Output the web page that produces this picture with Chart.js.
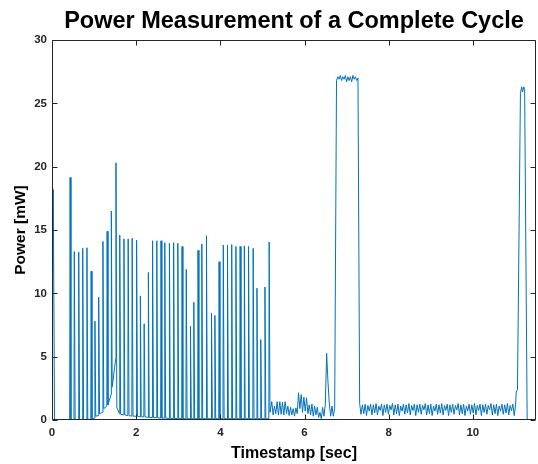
<!DOCTYPE html>
<html>
<head>
<meta charset="utf-8">
<script src="https://cdn.jsdelivr.net/npm/chart.js@4.4.1/dist/chart.umd.min.js"></script>
<style>
  html, body { margin: 0; padding: 0; background: #fff; }
  #wrap { width: 538px; height: 464px; }
</style>
</head>
<body>
<div id="wrap"><canvas id="c" width="538" height="464"></canvas></div>
<script>
// ---------- data ----------
const chartTitle = 'Power Measurement of a Complete Cycle';
const xLabel = 'Timestamp [sec]';
const yLabel = 'Power [mW]';
const xTicks = [0, 2, 4, 6, 8, 10];
const yTicks = [0, 5, 10, 15, 20, 25, 30];

// opening transient
const startTimes = [0, 0.03, 0.06, 0.42];
const startPower = [3.9, 18.2, 0.05, 0];

// pulse train: time of each pulse, its peak, the level just before it rises and the floor it falls back to
const pulseTimes = [0.43,0.53,0.635,0.73,0.83,0.93,1.02,1.11,1.21,1.31,1.41,1.52,1.61,1.71,1.81,1.905,2.01,2.10,2.19,2.29,2.39,2.49,2.59,2.68,2.79,2.89,2.99,3.09,3.19,3.29,3.37,3.47,3.56,3.67,3.79,3.87,3.97,4.07,4.17,4.27,4.37,4.47,4.57,4.67,4.78,4.87,4.96,5.06,5.16];
const pulsePeaks = [19.15,13.3,13.25,13.55,13.6,11.75,7.8,9.7,14.1,14.9,16.5,20.3,14.6,14.3,14.3,14.35,14.2,9.8,7.6,11.65,14.15,14.15,14.15,14.0,13.95,14.0,13.95,13.7,11.9,7.4,9.3,13.4,13.9,14.55,8.45,8.25,12.5,13.8,13.8,13.85,13.7,13.7,13.75,13.7,13.55,10.4,6.35,10.5,14.05];
const pulseLeads = [0,0,0,0,0,0.05,0.15,0.35,0.6,1.1,2.0,4.8,0.5,0.4,0.35,0.3,0.3,0.25,0.25,0.2,0.2,0.18,0.15,0.15,0.12,0.12,0.12,0.1,0.1,0.1,0.1,0.1,0.1,0.1,0.1,0.1,0.1,0.1,0.1,0.1,0.1,0.1,0.1,0.1,0.1,0.1,0.1,0.1,0.1];
const pulseFloors = [0,0,0,0,0.05,0.1,0.3,0.5,0.9,1.2,2.6,1.0,0.45,0.4,0.35,0.3,0.3,0.25,0.25,0.2,0.2,0.18,0.15,0.15,0.12,0.12,0.12,0.1,0.1,0.1,0.1,0.1,0.1,0.1,0.1,0.1,0.1,0.1,0.1,0.1,0.1,0.1,0.1,0.1,0.1,0.1,0.1,0.1,0.6];

// idle ripple between the pulse train and the first plateau (sample period below)
const ripple1Start = 5.19;
const ripple1Step = 0.0318;
const ripple1 = [0.6,1.45,0.4,1.1,0.5,1.45,0.4,1.45,0.45,1.4,0.4,1.45,0.5,1.1,0.35,1.0,0.4,0.9,0.3,0.95,0.5,2.15,0.9,2.0,0.6,1.8,0.7,1.75,0.5,1.2,0.4,1.25,0.3,1.1,0.4,1.0,0.2,0.6,0.1,1.0,0.3,1.2,5.26,3.0,1.3,0.3,1.1,0.3,0.9];

// first high-power plateau
const plateauStart = 6.76;
const plateauStep = 0.03;
const plateau = [26.8,27.1,26.9,27.2,26.8,27.1,26.9,27.2,26.7,27.1,26.8,27.1,26.7,27.2,26.9,27.1,26.8,27.0];

// long idle ripple
const ripple2Start = 7.31;
const ripple2Step = 0.0325;
const ripple2 = [1.30,0.45,1.20,0.50,1.25,0.35,1.15,0.70,1.25,0.40,
                 1.20,0.55,1.30,0.40,1.10,0.75,1.25,0.35,1.20,0.60,
                 1.25,0.45,1.15,0.80,1.30,0.40,1.20,0.50,1.25,0.35,
                 1.10,0.70,1.25,0.45,1.20,0.55,1.30,0.40,1.15,0.75,
                 1.25,0.35,1.20,0.60,1.25,0.45,1.15,0.80,1.30,0.40,
                 1.20,0.50,1.25,0.35,1.10,0.70,1.25,0.45,1.20,0.55,
                 1.30,0.40,1.15,0.75,1.25,0.35,1.20,0.60,1.25,0.45,
                 1.15,0.80,1.30,0.40,1.20,0.50,1.25,0.35,1.10,0.70,
                 1.25,0.45,1.20,0.55,1.30,0.40,1.15,0.75,1.25,0.35,
                 1.20,0.60,1.25,0.45,1.15,0.80,1.30,0.40,1.20,0.50,
                 1.25,0.35,1.10,0.70,1.25,0.45,1.20,0.55,1.30,0.40,
                 1.15,0.75,1.25,0.35,1.20];

// closing burst
const endTimes = [11.03, 11.06, 11.13, 11.16, 11.18, 11.21, 11.23, 11.29, 11.5];
const endPower = [2.2, 2.4, 25.8, 26.3, 25.9, 26.3, 26.1, 0.05, 0];

// ---------- assemble the trace ----------
const pts = [];
startTimes.forEach((t, i) => pts.push({x: t, y: startPower[i]}));
pulseTimes.forEach((t, i) => {
  pts.push({x: t - 0.008, y: pulseLeads[i]});
  pts.push({x: t, y: pulsePeaks[i]});
  pts.push({x: t + 0.02, y: pulseFloors[i]});
});
ripple1.forEach((v, i) => pts.push({x: ripple1Start + i * ripple1Step, y: v}));
plateau.forEach((v, i) => pts.push({x: plateauStart + i * plateauStep, y: v}));
ripple2.forEach((v, i) => pts.push({x: ripple2Start + i * ripple2Step, y: v}));
endTimes.forEach((t, i) => pts.push({x: t, y: endPower[i]}));

const FONT = "'Liberation Sans', Arial, Helvetica, sans-serif";
const INK = '#262626';

const framePlugin = {
  id: 'matlabFrame',
  afterDatasetsDraw(chart) {
    const {ctx, chartArea: a, scales: {x, y}} = chart;
    ctx.save();
    ctx.strokeStyle = INK;
    ctx.lineWidth = 1;
    const L = Math.round(a.left) + 0.5, R = Math.round(a.right) - 0.5;
    const T = Math.round(a.top) + 0.5, B = Math.round(a.bottom) - 0.5;
    ctx.beginPath();
    ctx.rect(L, T, R - L, B - T);
    const tl = 5;
    xTicks.forEach(v => {
      const px = Math.round(x.getPixelForValue(v)) + 0.5;
      ctx.moveTo(px, B); ctx.lineTo(px, B - tl);
      ctx.moveTo(px, T); ctx.lineTo(px, T + tl);
    });
    yTicks.forEach(v => {
      const py = Math.round(y.getPixelForValue(v)) + 0.5;
      ctx.moveTo(L, py); ctx.lineTo(L + tl, py);
      ctx.moveTo(R, py); ctx.lineTo(R - tl, py);
    });
    ctx.stroke();
    // title centred over the axes
    ctx.fillStyle = '#000';
    ctx.font = "bold 23.5px " + FONT;
    ctx.textAlign = 'center';
    ctx.textBaseline = 'alphabetic';
    ctx.fillText(chartTitle, (a.left + a.right) / 2, 28);
    ctx.restore();
  }
};

new Chart(document.getElementById('c'), {
  type: 'line',
  data: {
    datasets: [{
      data: pts,
      borderColor: '#0072BD',
      borderWidth: 1,
      pointRadius: 0,
      fill: false,
      tension: 0
    }]
  },
  options: {
    responsive: false,
    animation: false,
    devicePixelRatio: 1,
    layout: { padding: { left: 0, right: 2, top: 40, bottom: 0 } },
    plugins: { legend: { display: false }, tooltip: { enabled: false }, title: { display: false } },
    scales: {
      x: {
        type: 'linear', min: 0, max: 11.5,
        afterBuildTicks: s => { s.ticks = xTicks.map(v => ({value: v})); },
        afterFit: s => { s.height = 44; },
        grid: { display: false, drawTicks: false },
        border: { display: false },
        ticks: { font: { family: FONT, size: 11.5, weight: 'bold' }, color: INK, padding: 6, maxRotation: 0 },
        title: { display: true, text: xLabel, color: '#000', font: { family: FONT, size: 16, weight: 'bold' }, padding: { top: 0, bottom: 1 } }
      },
      y: {
        type: 'linear', min: 0, max: 30,
        afterBuildTicks: s => { s.ticks = yTicks.map(v => ({value: v})); },
        afterFit: s => { s.width = 52; },
        grid: { display: false, drawTicks: false },
        border: { display: false },
        ticks: { font: { family: FONT, size: 11.5, weight: 'bold' }, color: INK, padding: 5 },
        title: { display: true, text: yLabel, color: '#000', font: { family: FONT, size: 15.5, weight: 'bold' }, padding: { top: 11, bottom: 0 } }
      }
    }
  },
  plugins: [framePlugin]
});
</script>
</body>
</html>
